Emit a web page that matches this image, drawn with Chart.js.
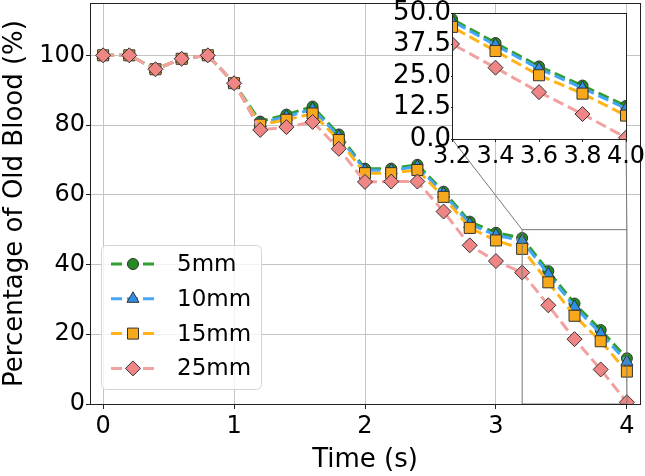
<!DOCTYPE html>
<html>
<head>
<meta charset="utf-8">
<script src="https://cdn.jsdelivr.net/npm/chart.js@4.4.1/dist/chart.umd.min.js"></script>
<style>
html, body { margin: 0; padding: 0; background: #fff; }
#wrap { position: relative; width: 645px; height: 476px; }
#main { position: absolute; left: 0; top: 0; }
#inset { position: absolute; left: 380px; top: 0; }
</style>
</head>
<body>
<div id="wrap">
  <canvas id="main" width="645" height="476"></canvas>
  <canvas id="inset" width="265" height="180"></canvas>
</div>
<script>
// time points (s)
const times = [0, 0.2, 0.4, 0.6, 0.8, 1.0, 1.2, 1.4, 1.6, 1.8, 2.0, 2.2, 2.4, 2.6, 2.8, 3.0, 3.2, 3.4, 3.6, 3.8, 4.0];

// percentage of old blood per wall distance
const old5mm  = [100, 100, 96, 99, 100, 92, 81.0, 83.0, 85.3, 77.3, 67.5, 67.5, 68.6, 60.9, 52.3, 49.1, 47.6, 38.1, 28.8, 21.2, 13.1];
const old10mm = [100, 100, 96, 99, 100, 92, 80.5, 82.4, 84.6, 76.7, 67.0, 67.0, 68.1, 60.3, 51.6, 48.4, 46.8, 37.2, 27.9, 20.2, 12.1];
const old15mm = [100, 100, 96, 99, 100, 92, 80.1, 81.5, 83.3, 75.7, 66.2, 66.2, 67.1, 59.4, 50.5, 46.9, 44.5, 34.9, 25.3, 18.0, 9.3];
const old25mm = [100, 100, 96, 99, 100, 92, 78.6, 79.4, 80.9, 73.2, 63.7, 63.8, 63.8, 55.2, 45.5, 41.0, 37.7, 28.3, 18.6, 9.9, 0.5];

const seriesNames = ['5mm', '10mm', '15mm', '25mm'];

const xTicks = [0, 1, 2, 3, 4];
const yTicks = [0, 20, 40, 60, 80, 100];
const insetXTicks = [3.2, 3.4, 3.6, 3.8, 4.0];
const insetYTicks = [0, 12.5, 25, 37.5, 50];

Chart.defaults.font.family = '"DejaVu Sans", sans-serif';
Chart.defaults.font.size = 24;
Chart.defaults.color = '#000';

const styles = [
  { line: '#2f9e2f', fill: '#228b22', shape: 'circle', r: 5.5 },
  { line: '#45a6f5', fill: '#2f8fe6', shape: 'triangle', r: 7 },
  { line: '#ffb31a', fill: '#f7a81b', shape: 'rect', r: 7.8 },
  { line: '#f2a0a0', fill: '#f08585', shape: 'rectRot', r: 7.5 }
];

function makeDatasets() {
  return [old5mm, old10mm, old15mm, old25mm].map((vals, i) => ({
    label: seriesNames[i],
    data: times.map((t, j) => ({ x: t, y: vals[j] })),
    borderColor: styles[i].line,
    borderWidth: 3,
    borderDash: [11, 5],
    backgroundColor: styles[i].fill,
    pointStyle: styles[i].shape,
    pointRadius: styles[i].r,
    pointBackgroundColor: styles[i].fill,
    pointBorderColor: '#333',
    pointBorderWidth: 1,
    tension: 0,
    clip: 0,
    order: 3 - i
  }));
}

function noPad(scale) {
  scale.paddingTop = 0; scale.paddingBottom = 0;
  scale.paddingLeft = 0; scale.paddingRight = 0;
}

const frame = {
  id: 'frame',
  afterDatasetsDraw(chart) {
    const { ctx, chartArea: a } = chart;
    ctx.save();
    ctx.strokeStyle = '#222';
    ctx.lineWidth = 1;
    ctx.strokeRect(Math.round(a.left) + 0.5, Math.round(a.top) + 0.5, a.right - a.left, a.bottom - a.top);
    ctx.restore();
  }
};

const whiteArea = {
  id: 'whiteArea',
  beforeDraw(chart) {
    const { ctx, chartArea: a } = chart;
    ctx.save();
    ctx.fillStyle = '#fff';
    ctx.fillRect(a.left, a.top, a.right - a.left, a.bottom - a.top);
    ctx.restore();
  }
};

// ---- inset ----
const insetCanvas = document.getElementById('inset');
const insetChart = new Chart(insetCanvas.getContext('2d'), {
  type: 'line',
  data: { datasets: makeDatasets() },
  options: {
    responsive: false,
    animation: false,
    devicePixelRatio: 1,
    layout: { autoPadding: false, padding: { top: 13, right: 19, left: 0, bottom: 0 } },
    plugins: { legend: { display: false }, tooltip: { enabled: false } },
    scales: {
      x: {
        type: 'linear', min: 3.2, max: 4.0,
        afterBuildTicks: s => { s.ticks = insetXTicks.map(v => ({ value: v })); },
        afterFit: s => { s.height = 41; noPad(s); },
        ticks: { padding: 0, autoSkip: false, maxRotation: 0, minRotation: 0, callback: v => v.toFixed(1) },
        grid: { drawOnChartArea: false, tickLength: 3, tickColor: '#222' },
        border: { display: false }
      },
      y: {
        min: 0, max: 50,
        afterBuildTicks: s => { s.ticks = insetYTicks.map(v => ({ value: v })); },
        afterFit: s => { s.width = 72; noPad(s); },
        ticks: { padding: 0, autoSkip: false, font: { size: 26 }, callback: v => v.toFixed(1) },
        grid: { drawOnChartArea: false, tickLength: 1, tickColor: '#222' },
        border: { display: false }
      }
    }
  },
  plugins: [whiteArea, frame]
});

// ---- main ----
const zoomBox = {
  id: 'zoomBox',
  afterDatasetsDraw(chart) {
    const { ctx } = chart;
    const x = chart.scales.x, y = chart.scales.y;
    const ia = insetChart.chartArea;
    const ox = insetCanvas.offsetLeft, oy = insetCanvas.offsetTop;
    const x0 = x.getPixelForValue(insetXTicks[0]);
    const x1 = x.getPixelForValue(insetXTicks[insetXTicks.length - 1]);
    const y0 = y.getPixelForValue(insetYTicks[0]);
    const y1 = y.getPixelForValue(insetYTicks[insetYTicks.length - 1]);
    ctx.save();
    ctx.strokeStyle = '#777';
    ctx.lineWidth = 1;
    ctx.strokeRect(x0, y1, x1 - x0, y0 - y1);
    ctx.beginPath();
    ctx.moveTo(x0, y1); ctx.lineTo(ox + ia.left, oy + ia.bottom);
    ctx.moveTo(x1, y1); ctx.lineTo(ox + ia.right, oy + ia.bottom);
    ctx.stroke();
    ctx.restore();
  }
};

const boxLegend = {
  id: 'boxLegend',
  afterDraw(chart) {
    const { ctx, chartArea: a } = chart;
    const w = 160, h = 144;
    const bx = a.left + 11, by = a.bottom - 15 - h;
    ctx.save();
    ctx.beginPath();
    ctx.roundRect(bx + 0.5, by + 0.5, w, h, 5);
    ctx.fillStyle = 'rgba(255,255,255,0.8)';
    ctx.fill();
    ctx.strokeStyle = '#d5d5d5';
    ctx.lineWidth = 1;
    ctx.stroke();
    chart.data.datasets.forEach((ds, i) => {
      const cy = by + 19 + i * 34.8;
      ctx.setLineDash(ds.borderDash);
      ctx.lineWidth = ds.borderWidth;
      ctx.strokeStyle = ds.borderColor;
      ctx.beginPath();
      ctx.moveTo(bx + 10, cy);
      ctx.lineTo(bx + 54, cy);
      ctx.stroke();
      ctx.setLineDash([]);
      ctx.fillStyle = ds.pointBackgroundColor;
      ctx.strokeStyle = ds.pointBorderColor;
      ctx.lineWidth = ds.pointBorderWidth;
      Chart.helpers.drawPoint(ctx, {
        pointStyle: ds.pointStyle, radius: ds.pointRadius, rotation: 0, borderWidth: ds.pointBorderWidth
      }, bx + 32, cy);
      ctx.fillStyle = '#000';
      ctx.font = '23px "DejaVu Sans"';
      ctx.textBaseline = 'middle';
      ctx.textAlign = 'left';
      ctx.fillText(ds.label, bx + 76, cy + 1);
    });
    ctx.restore();
  }
};

new Chart(document.getElementById('main').getContext('2d'), {
  type: 'line',
  data: { datasets: makeDatasets() },
  options: {
    responsive: false,
    animation: false,
    devicePixelRatio: 1,
    layout: { autoPadding: false, padding: { top: 3, right: 5, left: 0, bottom: 0 } },
    plugins: { legend: { display: false }, tooltip: { enabled: false } },
    scales: {
      x: {
        type: 'linear', min: -0.1, max: 4.1,
        afterBuildTicks: s => { s.ticks = xTicks.map(v => ({ value: v })); },
        afterFit: s => { s.height = 72; noPad(s); },
        ticks: { padding: 3, autoSkip: false, maxRotation: 0 },
        grid: { color: '#c4c4c4', lineWidth: 1, tickLength: 5, tickColor: '#222' },
        border: { display: false },
        title: { display: true, text: 'Time (s)', font: { size: 26 }, padding: { top: 0, bottom: 0 } }
      },
      y: {
        min: 0, max: 115,
        afterBuildTicks: s => { s.ticks = yTicks.map(v => ({ value: v })); },
        afterFit: s => { s.width = 90; noPad(s); },
        ticks: { padding: 1, autoSkip: false },
        grid: { color: '#c4c4c4', lineWidth: 1, tickLength: 4, tickColor: '#222' },
        border: { display: false },
        title: { display: true, text: 'Percentage of Old Blood (%)', font: { size: 26 }, padding: { top: 0, bottom: 0 } }
      }
    }
  },
  plugins: [zoomBox, frame, boxLegend]
});
</script>
</body>
</html>
